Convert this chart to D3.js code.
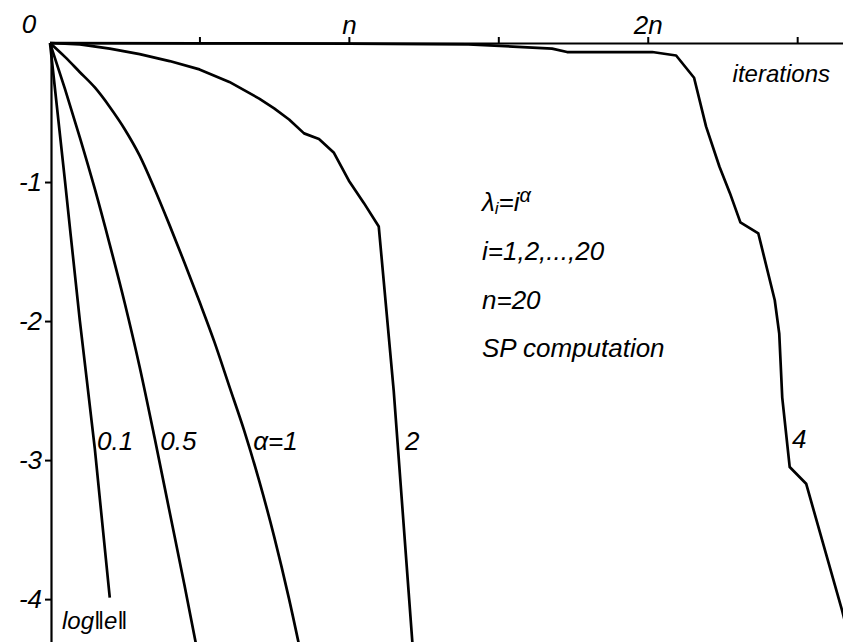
<!DOCTYPE html>
<html>
<head>
<meta charset="utf-8">
<script src="https://cdn.jsdelivr.net/npm/d3@7"></script>
<style>
  body { margin: 0; background: #fff; }
  svg { display: block; }
  text { font-family: "Liberation Sans", Arial, sans-serif; font-style: italic; fill: #000; }
</style>
</head>
<body>
<div id="chart"></div>
<script>
// Data: log10 of error norm against iteration count (n = 20)
const curve01 = [[0, 0], [1, -0.99], [2, -2.0], [3, -2.92], [4, -3.99]]
const curve05 = [[0, 0], [1, -0.33], [2, -0.68], [3, -1.05], [4, -1.45], [5, -1.87],
  [6, -2.33], [7, -2.84], [8, -3.37], [9, -3.9], [10, -4.45]]
const curve1 = [[0, 0], [1, -0.1], [2, -0.21], [3, -0.32], [4, -0.46], [5, -0.62],
  [6, -0.81], [7, -1.05], [8, -1.31], [9, -1.58], [10, -1.86], [11, -2.15], [12, -2.47],
  [13, -2.79], [14, -3.15], [15, -3.55], [16, -4.0], [17, -4.5]]
const curve2 = [[0, 0], [2, -0.01], [4, -0.04], [6, -0.08], [8, -0.13], [10, -0.19],
  [12, -0.28], [14, -0.4], [15, -0.47], [16, -0.55], [17, -0.65], [18, -0.69], [19, -0.79],
  [20, -0.99], [21, -1.15], [22, -1.32], [23, -2.5], [24, -3.95], [25, -5.4]]
const curve4 = [[0, 0], [10, -0.002], [20, -0.005], [28, -0.01], [33.6, -0.04], [34.6, -0.065],
  [40.3, -0.065], [41.9, -0.09], [43.1, -0.25], [43.9, -0.6], [44.8, -0.89], [45.5, -1.08],
  [46.2, -1.29], [47.4, -1.37], [48.5, -1.85], [48.8, -2.09], [49.0, -2.55], [49.5, -3.05],
  [50.6, -3.17], [53.0, -4.08], [54, -4.5]]

const curves = [curve01, curve05, curve1, curve2, curve4]
const curveLabels = ["0.1", "0.5", "\u03b1=1", "2", "4"]
// where each label sits, in data units (iteration, log value)
const labelAt = [[3.15, -2.93], [7.38, -2.93], [13.6, -2.93], [23.75, -2.93], [49.65, -2.91]]

const xTicks = [10, 20, 30, 40, 50]
const xTickLabels = { 20: "n", 40: "2n" }
const yTicks = [-1, -2, -3, -4]

const noteLines = ["i=1,2,...,20", "n=20", "SP computation"]

async function draw() {
  let dimensions = {
    width: 843,
    height: 642,
    left: 50,
    top: 43,
  }

  const svg = d3.select('#chart')
    .append('svg')
    .attr('width', dimensions.width)
    .attr('height', dimensions.height)

  // Scales
  const xScale = d3.scaleLinear()
    .domain([0, 53.2])
    .range([dimensions.left, 845])

  const yScale = d3.scaleLinear()
    .domain([0, -4.33])
    .range([dimensions.top, 645])

  // Axes
  const xAxis = d3.axisTop(xScale)
    .tickValues(xTicks)
    .tickSize(6)
    .tickSizeOuter(0)
    .tickPadding(3)
    .tickFormat(d => xTickLabels[d] || '')

  const xAxisGroup = svg.append('g')
    .attr('transform', `translate(0, ${dimensions.top})`)
    .call(xAxis)

  const yAxis = d3.axisLeft(yScale)
    .tickValues(yTicks)
    .tickSize(6)
    .tickSizeOuter(0)
    .tickPadding(3)
    .tickFormat(d => '-' + Math.abs(d))

  const yAxisGroup = svg.append('g')
    .attr('transform', `translate(${dimensions.left + 1}, 0)`)
    .call(yAxis)

  ;[xAxisGroup, yAxisGroup].forEach(g => {
    g.select('.domain').attr('stroke-width', 2.2)
    g.selectAll('.tick line').attr('stroke-width', 2)
    g.selectAll('.tick text')
      .attr('font-family', null)
      .style('font-size', '26px')
  })

  // origin label
  svg.append('text')
    .attr('x', 29)
    .attr('y', 33)
    .attr('text-anchor', 'middle')
    .style('font-size', '26px')
    .text('0')

  // Curves: the three fast ones are smooth, 2 and 4 keep their corners
  const smoothLine = d3.line()
    .x(d => xScale(d[0]))
    .y(d => yScale(d[1]))
    .curve(d3.curveMonotoneX)

  const sharpLine = d3.line()
    .x(d => xScale(d[0]))
    .y(d => yScale(d[1]))

  svg.append('g')
    .selectAll('path')
    .data(curves)
    .join('path')
    .attr('d', (d, i) => i < 3 ? smoothLine(d) : sharpLine(d))
    .attr('fill', 'none')
    .attr('stroke', '#000')
    .attr('stroke-width', 2.7)
    .attr('stroke-linejoin', 'round')

  svg.append('g')
    .selectAll('text')
    .data(curveLabels)
    .join('text')
    .attr('x', (d, i) => xScale(labelAt[i][0]))
    .attr('y', (d, i) => yScale(labelAt[i][1]))
    .style('font-size', '26px')
    .text(d => d)

  // Axis titles
  svg.append('text')
    .attr('x', 830)
    .attr('y', 82)
    .attr('text-anchor', 'end')
    .style('font-size', '24px')
    .text('iterations')

  svg.append('text')
    .attr('x', 62)
    .attr('y', 629)
    .style('font-size', '24px')
    .text('log\u2016e\u2016')

  // Notes
  const notes = svg.append('g')
    .attr('transform', 'translate(482, 0)')
    .style('font-size', '26px')

  const lambda = notes.append('text').attr('y', 211)
  lambda.append('tspan').text('\u03bb')
  lambda.append('tspan').attr('dy', 3).style('font-size', '17px').text('i')
  lambda.append('tspan').attr('dy', -3).text('=i')
  lambda.append('tspan').attr('dy', -9).style('font-size', '20px').text('\u03b1')

  notes.selectAll('text.line')
    .data(noteLines)
    .join('text')
    .attr('class', 'line')
    .attr('y', (d, i) => 260 + i * 48.5)
    .text(d => d)
}

draw()
</script>
</body>
</html>
